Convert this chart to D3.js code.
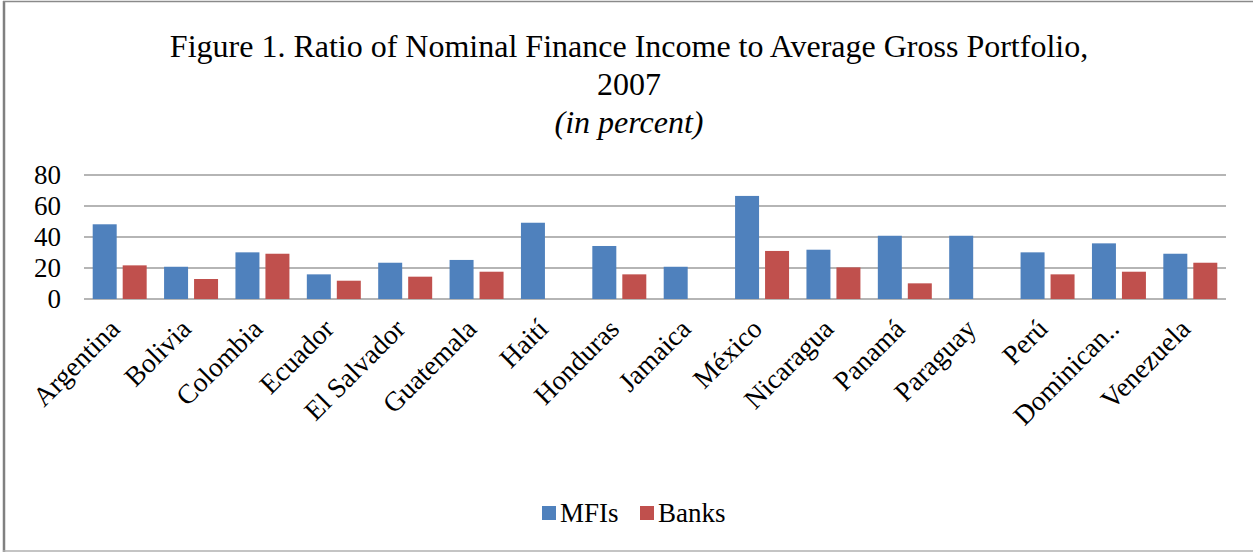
<!DOCTYPE html>
<html><head><meta charset="utf-8">
<script src="https://cdn.jsdelivr.net/npm/d3@7/dist/d3.min.js"></script>
<style>body{margin:0;background:#fff}svg{display:block}
svg text{font-family:"Liberation Serif","Times New Roman",Times,"DejaVu Serif",serif;}</style>
</head><body><svg id="c" width="1253" height="552"></svg>
<script>
const categories = ["Argentina","Bolivia","Colombia","Ecuador","El Salvador","Guatemala","Haití","Honduras","Jamaica","México","Nicaragua","Panamá","Paraguay","Perú","Dominican..","Venezuela"];
const seriesNames = ["MFIs","Banks"];
const mfis  = [48.2,20.8,30.1,15.9,23.4,25.2,49.2,34.2,20.8,66.5,31.8,40.8,40.8,30.1,35.9,29.2];
const banks = [21.7,12.9,29.2,11.8,14.4,17.6,null,15.9,null,31.0,20.4,10.1,null,15.9,17.6,23.4];
const yTicks = [0,20,40,60,80];
const colors = ["#4F81BD","#C0504D"];

const svg = d3.select("#c");

// frame
svg.append("line").attr("x1",4).attr("x2",4).attr("y1",1).attr("y2",552).attr("stroke","#808080").attr("stroke-width",2.5);
svg.append("line").attr("x1",3).attr("x2",1253).attr("y1",1.5).attr("y2",1.5).attr("stroke","#8a8a8a").attr("stroke-width",1.5);
svg.append("line").attr("x1",3).attr("x2",1253).attr("y1",551).attr("y2",551).attr("stroke","#b0b0b0").attr("stroke-width",1.5);

// title
const t = svg.append("g").attr("fill","#000").attr("text-anchor","middle");
t.append("text").attr("x",629).attr("y",57).attr("font-size",32).text("Figure 1. Ratio of Nominal Finance Income to Average Gross Portfolio,");
t.append("text").attr("x",629).attr("y",95).attr("font-size",32).text("2007");
t.append("text").attr("x",629).attr("y",133).attr("font-size",32).attr("font-style","italic").text("(in percent)");

const x0 = d3.scaleBand().domain(categories).range([84,1226]).padding(0);
const x1 = d3.scaleBand().domain(seriesNames).range([8.7, x0.bandwidth()-8.7]).paddingInner(0.2);
const y = d3.scaleLinear().domain([0,80]).range([299,175]);

// grid
svg.append("g").selectAll("line").data(yTicks).join("line")
  .attr("x1",84).attr("x2",1226).attr("y1",d=>y(d)).attr("y2",d=>y(d))
  .attr("stroke","#9c9c9c").attr("stroke-width",1.5);

// y labels
const yAxis = d3.axisLeft(y).tickValues(yTicks).tickSize(0).tickPadding(0);
const ya = svg.append("g").attr("transform","translate(61,0)").call(yAxis);
ya.select(".domain").remove();
ya.attr("font-family",null).attr("font-size",null);
ya.selectAll("text").attr("font-size",27).attr("fill","#000").attr("dy","0.33em");

// bars
const data = [mfis, banks];
seriesNames.forEach((s,i)=>{
  svg.append("g").selectAll("rect").data(categories.map((c,j)=>({c,v:data[i][j]})).filter(d=>d.v!=null)).join("rect")
    .attr("x",d=>x0(d.c)+x1(s)).attr("width",x1.bandwidth())
    .attr("y",d=>y(d.v)).attr("height",d=>y(0)-y(d.v))
    .attr("fill",colors[i]);
});

// x labels
const xa = svg.append("g").attr("font-size",27.5).attr("fill","#000");
xa.selectAll("text").data(categories).join("text")
  .attr("transform",d=>`translate(${x0(d)+x0.bandwidth()/2-12},${317}) rotate(-45)`)
  .attr("text-anchor","end").attr("dy","0.7em").text(d=>d);

// legend
const lg = svg.append("g").attr("font-size",27);
const lx = [542, 640];
seriesNames.forEach((s,i)=>{
  lg.append("rect").attr("x",lx[i]).attr("y",506).attr("width",14).attr("height",14).attr("fill",colors[i]);
  lg.append("text").attr("x",lx[i]+18).attr("y",522).text(s);
});
</script></body></html>
